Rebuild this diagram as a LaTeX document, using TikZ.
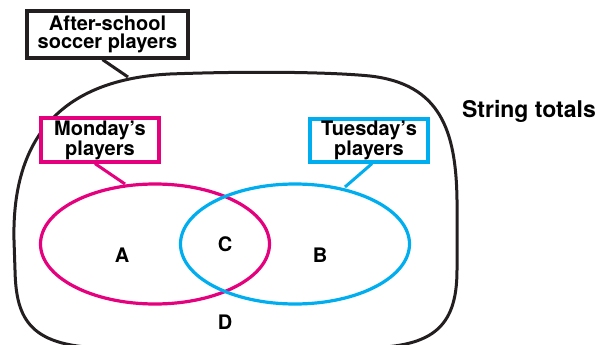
\documentclass[tikz,border=0pt]{standalone}
\usepackage{fontspec}
\setmainfont{TeX Gyre Heros}
\usetikzlibrary{shapes.geometric}
\definecolor{mag}{HTML}{E5007E}
\definecolor{cyn}{HTML}{00AEEF}
\definecolor{ink}{HTML}{231F20}
\begin{document}
\begin{tikzpicture}[x=1pt,y=-1pt,
  tag/.style={draw,line width=3.2pt,fill=white,inner sep=0pt,align=center,
    font=\bfseries\fontsize{20}{18.5}\selectfont},
  region/.style={font=\bfseries\fontsize{20}{20}\selectfont},
  vset/.style={line width=3.2pt,ellipse,minimum width=229pt,minimum height=120pt,inner sep=0pt}]
\useasboundingbox (0,0) rectangle (608,345);
\clip (0,0) rectangle (608,345);
% universal set
\draw[ink,line width=3pt]
  (14,240) .. controls (12,150) and (50,80) .. (170,74)
  .. controls (250,71) and (330,72) .. (370,76)
  .. controls (440,84) and (456,130) .. (457,200)
  -- (457,270) .. controls (457,330) and (430,348) .. (360,348)
  -- (110,348) .. controls (30,348) and (16,320) .. (15,270) -- cycle;
% sets
\node[vset,draw=mag] (mon) at (155,244) {};
\node[vset,draw=cyn] (tue) at (295,244) {};
% labels
\node[tag,draw=ink,minimum width=161pt,minimum height=47pt] (soc) at (107.5,34.5) {After-school\\soccer players};
\node[tag,draw=mag,minimum width=118pt,minimum height=44pt] (monl) at (100,140) {Monday’s\\players};
\node[tag,draw=cyn,minimum width=118pt,minimum height=43pt] (tuel) at (369,140.5) {Tuesday’s\\players};
\coordinate (socend) at (128,77);
\coordinate (monend) at (125,184);
\coordinate (tueend) at (345,187);
\draw[ink,line width=3pt] (soc.south) ++(-5,0) -- (socend);
\draw[mag,line width=3pt] (monl.south) ++(-5,0) -- (monend);
\draw[cyn,line width=3pt] (tuel.south) ++(3,0) -- (tueend);
% region letters
\node[region] (a) at (122,255) {A};
\node[region] (c) at (225,244) {C};
\node[region] (b) at (320,255) {B};
\node[region] (d) at (225,322) {D};
\node[font=\bfseries\fontsize{23}{23}\selectfont] (tot) at (529,111) {String totals};
\end{tikzpicture}
\end{document}
